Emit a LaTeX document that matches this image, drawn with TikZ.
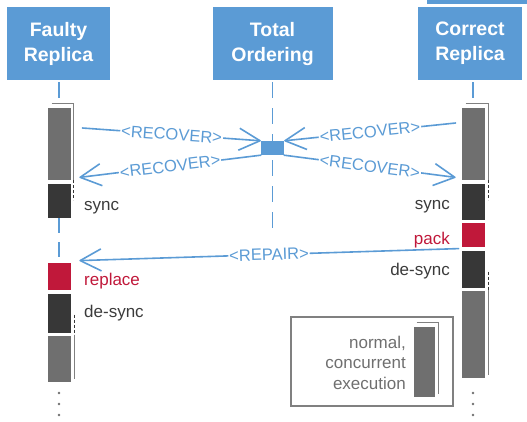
\documentclass[tikz,border=0pt]{standalone}
\usepackage{fontspec}
\setmainfont{Liberation Sans}
\usepackage{xcolor}
\usetikzlibrary{shapes,arrows.meta}
\usetikzlibrary{positioning}

\definecolor{hdrblue}{HTML}{5B9BD5}
\definecolor{bargray}{HTML}{6F6F6F}
\definecolor{bardark}{HTML}{373737}
\definecolor{barred}{HTML}{C0183A}
\definecolor{txtdark}{HTML}{3B3B3B}
\definecolor{legendgray}{HTML}{808080}

\tikzstyle{header} = [rectangle, fill=hdrblue, text=white, align=center, inner sep=0pt, minimum height=73pt, font=\fontsize{19.5}{25}\selectfont\bfseries]
\tikzstyle{bar} = [rectangle, draw=white, line width=0.8pt, inner sep=0pt, minimum width=24pt]
\tikzstyle{life} = [draw, hdrblue, line width=1.6pt, dash pattern=on 16pt off 10pt, shorten <=2pt]
\tikzstyle{msg} = [draw, hdrblue, line width=1.6pt, line cap=round, -{Straight Barb[length=21pt,width=22pt,line join=round]}]
\tikzstyle{msglabel} = [fill=white, text=hdrblue, sloped, inner sep=1pt, font=\fontsize{16.5}{20}\selectfont]
\tikzstyle{shade} = [draw, legendgray, line width=1.5pt]
\tikzstyle{shadedash} = [draw, bardark, line width=1.5pt, dash pattern=on 3pt off 2pt]
\tikzstyle{txt} = [text=txtdark, inner sep=0pt, font=\fontsize{17}{20.5}\selectfont]

\begin{document}
\begin{tikzpicture}[x=1pt, y=-1pt]
    \useasboundingbox (0,0) rectangle (527,421);

    % Place nodes
    \fill[hdrblue] (427,0) rectangle (527,4);
    \node [header, minimum width=103pt] (fault) at (58.5,43.5) {Faulty\\Replica};
    \node [header, minimum width=120pt] (order) at (272.5,43.5) {Total\\Ordering};
    \node [header, minimum width=104pt] (correct) at (470,43.5) {Correct\\Replica};

    % faulty replica
    \node [bar, fill=bargray, minimum height=73pt] (fgray) at (59,143.5) {};
    \node [bar, fill=bardark, minimum height=35pt] (fdark) at (59,200.5) {};
    \node [bar, fill=barred, minimum height=28pt] (fred) at (59,276) {};
    \node [bar, fill=bardark, minimum height=40pt] (fdark2) at (59,313) {};
    \node [bar, fill=bargray, minimum height=47pt] (fgray2) at (59,358.5) {};

    % correct replica
    \node [bar, fill=bargray, minimum height=73pt] (cgray) at (473,143.5) {};
    \node [bar, fill=bardark, minimum height=37pt] (cdark) at (473,201.5) {};
    \node [bar, fill=barred, minimum height=25pt] (cred) at (473,235) {};
    \node [bar, fill=bardark, minimum height=38pt] (cdark2) at (473,269) {};
    \node [bar, fill=bargray, minimum height=88pt] (cgray2) at (473,334) {};

    % total ordering
    \node [fill=hdrblue, inner sep=0pt, minimum width=23pt, minimum height=14pt] (tobox) at (272.5,148) {};
    \coordinate (oend) at (272.5,228);

    % lifelines
    \path [life] (fault.south -| fgray.north) -- (fgray.north);
    \path [life] (order.south) -- (oend);
    \path [life] (correct.south -| cgray.north) -- (cgray.north);
    \path [life, dash pattern=on 15pt off 9pt, shorten <=0pt] (fdark.south) -- (fred.north);

    % shadows
    \path [shade] ([xshift=5pt,yshift=3pt]fgray.north west) -| ([xshift=2pt]fgray.south east);
    \path [shadedash] ([xshift=2pt]fgray.south east) -- ++(0,20);
    \path [shade] ([xshift=5pt,yshift=3pt]cgray.north west) -| ([xshift=3pt]cgray.south east);
    \path [shadedash] ([xshift=3pt]cgray.south east) -- ++(0,20);
    \path [shadedash] ([xshift=3pt,yshift=20pt]fgray2.north east) -- ([xshift=3pt]fgray2.north east);
    \path [shade] ([xshift=3pt]fgray2.north east) -- ([xshift=3pt,yshift=3pt]fgray2.south east);
    \path [shadedash] ([xshift=3pt,yshift=18pt]cgray2.north east) -- ([xshift=3pt]cgray2.north east);
    \path [shade] ([xshift=3pt]cgray2.north east) -- ([xshift=3pt,yshift=3pt]cgray2.south east);

    % labels
    \node [txt, anchor=base west] (fsync) at (84,210) {sync};
    \node [txt, anchor=base west, text=barred] (freplace) at (84,285) {replace};
    \node [txt, anchor=base west] (fdesync) at (84,317) {de-sync};
    \node [txt, anchor=base east] (csync) at (450,209) {sync};
    \node [txt, anchor=base east, text=barred] (cpack) at (450,244) {pack};
    \node [txt, anchor=base east] (cdesync) at (450,275) {de-sync};

    % messages
    \path [msg] ([xshift=11pt,yshift=15.5pt]fgray.east) -- node [msglabel] {<RECOVER>} (tobox.north west);
    \path [msg] (tobox.south west) -- node [msglabel] {<RECOVER>} ([xshift=8pt,yshift=3pt]fgray.south east);
    \path [msg] ([xshift=-5pt,yshift=20.5pt]cgray.west) -- node [msglabel] {<RECOVER>} (tobox.north east);
    \path [msg] (tobox.south east) -- node [msglabel] {<RECOVER>} ([xshift=-5pt,yshift=3pt]cgray.south west);
    \path [msg] ([xshift=-2pt,yshift=1pt]cdark2.north west) -- node [msglabel] {<REPAIR>} ([xshift=8pt,yshift=1pt]fred.north east);

    % legend
    \node [draw=legendgray, line width=1.5pt, minimum width=162pt, minimum height=89pt] (legend) at (372,361.5) {};
    \node [bar, fill=bargray, minimum width=22pt, minimum height=71pt] (lbar) at (424,361.5) {};
    \path [shade] ([xshift=4pt,yshift=3pt]lbar.north west) -| ([xshift=3pt,yshift=3pt]lbar.south east);
    \node [txt, text=bargray, align=right, anchor=north east] (ltext) at (406,335.5) {normal,\\concurrent\\execution};

    % continuation dots
    \foreach \y in {393,404,415} {
        \fill [bargray] (fgray2.south |- 0,\y) circle (1.4pt);
        \fill [bargray] (cgray2.south |- 0,\y) circle (1.4pt);
    }
\end{tikzpicture}
\end{document}
